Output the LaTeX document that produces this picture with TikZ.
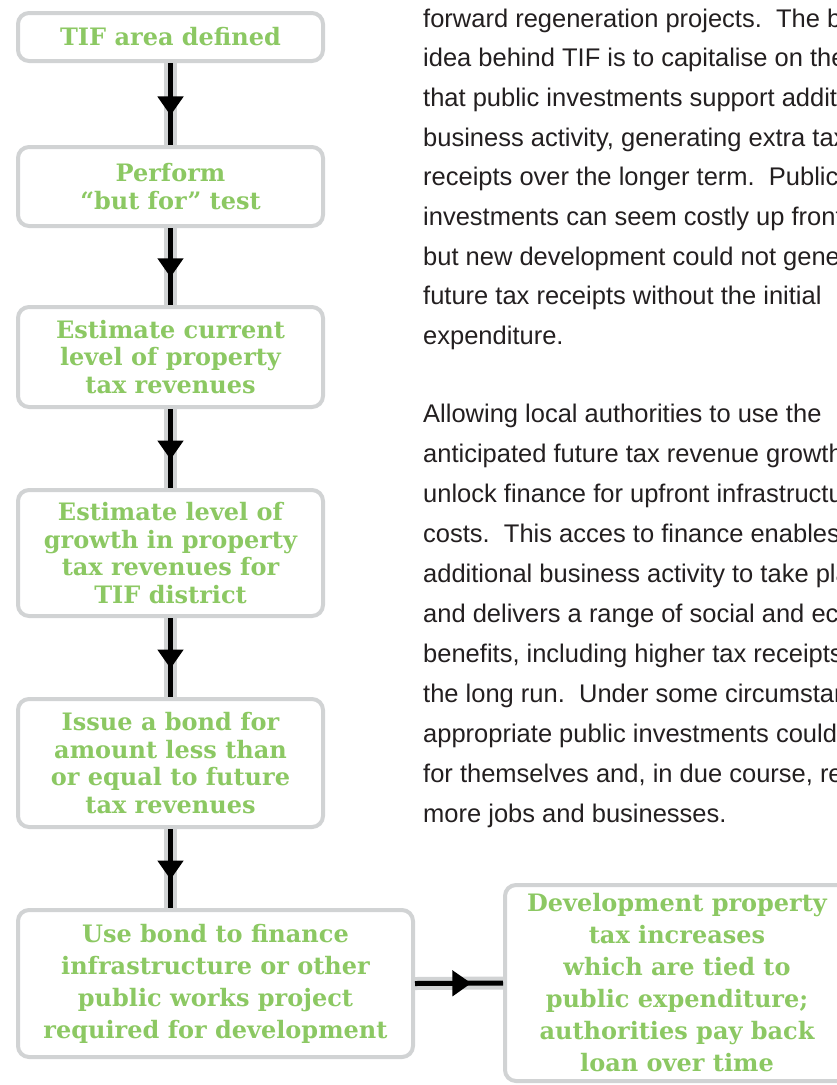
\documentclass[tikz,border=0pt]{standalone}
\usepackage{fontspec}
\setmainfont{Liberation Sans}
\newfontfamily\slabfont[Ligatures=TeX]{DejaVu Serif}
\usepackage{xcolor}
\definecolor{tGreen}{HTML}{8CC863}
\definecolor{tGrey}{HTML}{D1D3D4}
\definecolor{tInk}{HTML}{231F20}
\usetikzlibrary{arrows.meta,decorations.markings}
\tikzset{
 flowbox/.style={draw=tGrey, line width=4pt, rounded corners=11pt, inner sep=0pt, align=center, text=tGreen, font=\slabfont\bfseries\fontsize{24pt}{27.5pt}\selectfont},
 loosebox/.style={flowbox, font=\slabfont\bfseries\fontsize{24pt}{32pt}\selectfont},
 flowarrow/.style={draw=black, line width=5pt, preaction={draw=tGrey, line width=13pt}, postaction={decorate, decoration={markings, mark=at position 0.64 with {\arrow{Triangle[width=25pt,length=19pt]}}}}},
 para/.style={anchor=base west, inner sep=0pt, text=tInk, font=\fontsize{25.5pt}{40pt}\selectfont}
}

\begin{document}
\begin{tikzpicture}[x=1pt, y=-1pt]
\useasboundingbox (0,0) rectangle (837,1085);
\clip (0,0) rectangle (837,1085);

% steps down the left side
\node[flowbox, minimum width=305, minimum height=48] (defined) at (170.5,37) {TIF area defined};
\node[flowbox, minimum width=305, minimum height=79] (butfor) at (170.5,186.5) {Perform\\“but for” test};
\node[flowbox, minimum width=305, minimum height=100] (current) at (170.5,357) {Estimate current\\level of property\\tax revenues};
\node[flowbox, minimum width=305, minimum height=126] (growth) at (170.5,553) {Estimate level of\\growth in property\\tax revenues for\\TIF district};
\node[flowbox, minimum width=305, minimum height=128] (bond) at (170.5,763) {Issue a bond for\\amount less than\\or equal to future\\tax revenues};
\node[loosebox, minimum width=395, minimum height=147] (finance) at (215.5,983.5) {Use bond to finance\\infrastructure or other\\public works project\\required for development};
\node[loosebox, minimum width=344, minimum height=196] (payback) at (677,983) {Development property\\tax increases\\which are tied to\\public expenditure;\\authorities pay back\\loan over time};

\draw[flowarrow] (defined.south) -- (butfor.north);
\draw[flowarrow] (butfor.south) -- (current.north);
\draw[flowarrow] (current.south) -- (growth.north);
\draw[flowarrow] (growth.south) -- (bond.north);
\draw[flowarrow] (bond.south) -- (bond.south |- finance.north);
\draw[flowarrow, preaction={draw=tGrey, line width=9pt}] (finance.east) -- (payback.west);

% running text on the right
\foreach \txt [count=\i from 0] in {forward regeneration projects.\ \ The basic, idea behind TIF is to capitalise on the fact, that public investments support additional, {business activity, generating extra tax}, receipts over the longer term.\ \ Public, {investments can seem costly up front,}, but new development could not generate, future tax receipts without the initial, expenditure.}
 \node[para] (intro-\i) at (423,27+39.7*\i) {\txt};
\foreach \txt [count=\i from 0] in {Allowing local authorities to use the, anticipated future tax revenue growth to, unlock finance for upfront infrastructure, costs.\ \ This acces to finance enables, additional business activity to take place, and delivers a range of social and economic, {benefits, including higher tax receipts, in}, {the long run.\ \ Under some circumstances,}, appropriate public investments could pay, {for themselves and, in due course, result in}, more jobs and businesses.}
 \node[para] (body-\i) at (423,422+40*\i) {\txt};
\end{tikzpicture}
\end{document}
